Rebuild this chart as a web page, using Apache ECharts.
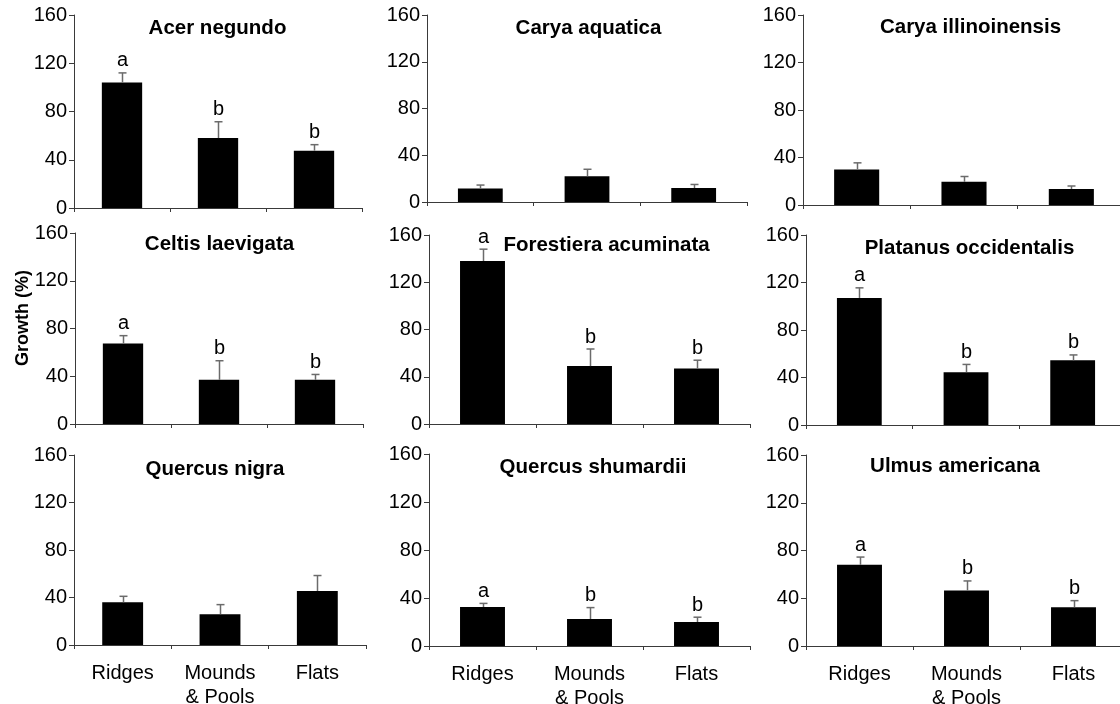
<!DOCTYPE html>
<html>
<head>
<meta charset="utf-8">
<script src="https://cdn.jsdelivr.net/npm/echarts@6/dist/echarts.min.js"></script>
<style>
  html, body { margin: 0; padding: 0; background: #fff; }
  #chart { width: 1120px; height: 704px; }
</style>
</head>
<body>
<div id="chart"></div>
<script>
// Microtopographic position classes
const categories = ['Ridges', 'Mounds\n& Pools', 'Flats'];

// One panel per species
const species = [
  'Acer negundo', 'Carya aquatica', 'Carya illinoinensis',
  'Celtis laevigata', 'Forestiera acuminata', 'Platanus occidentalis',
  'Quercus nigra', 'Quercus shumardii', 'Ulmus americana'
];

// Mean growth (%) per species, in category order
const growthMean = [
  [104, 58, 47.5],
  [11.5, 22, 12],
  [30, 19.5, 13.5],
  [67.5, 37, 37],
  [138, 49, 47],
  [107, 44.5, 54.5],
  [36, 26, 45.5],
  [32.5, 22.5, 20],
  [68, 46.5, 32.5]
];

// Standard error of growth (%)
const growthSE = [
  [8, 13.5, 5],
  [3, 6, 3],
  [5.5, 4.5, 2.5],
  [6.5, 16, 4.5],
  [10, 14.5, 7],
  [8.5, 6.5, 4.5],
  [5, 8, 13],
  [3, 9.5, 4],
  [6.5, 8, 5.5]
];

// Significance groupings (empty = not shown)
const groupLetters = [
  ['a', 'b', 'b'],
  ['', '', ''],
  ['', '', ''],
  ['a', 'b', 'b'],
  ['a', 'b', 'b'],
  ['a', 'b', 'b'],
  ['', '', ''],
  ['a', 'b', 'b'],
  ['a', 'b', 'b']
];

// Shared y scale
const yMin = 0, yMax = 160, yStep = 40;
const yAxisTitle = 'Growth (%)';

// Panel plotting boxes: [left, top, width, height] in px
const panelBoxes = [
  [74, 15, 288, 193],
  [427, 15, 320, 187],
  [803, 15, 322, 190],
  [75, 233, 288, 191],
  [429, 235, 321, 189],
  [806, 235, 320, 190],
  [74, 455, 292, 190],
  [429, 454, 321, 192],
  [806, 455, 321, 191]
];

// Panel heading anchors: [centre x, centre y] in px
const headingAnchors = [
  [217.5, 28], [588.5, 28], [970.5, 27.5],
  [219.5, 244], [606.5, 245], [969.5, 248],
  [215, 469], [593, 467], [955, 466]
];

const FONT = '"Liberation Sans", Arial, Helvetica, sans-serif';
const AXIS_COLOR = '#3a3a3a';
const ERR_COLOR = '#6b6b6b';

function errorRenderer(panel) {
  return function (params, api) {
    const i = api.value(0), m = api.value(1), e = api.value(2);
    const base = api.coord([i, m]);
    const top = api.coord([i, m + e]);
    const x = Math.round(base[0]) + 0.5;
    const children = [
      { type: 'line', shape: { x1: x, y1: base[1], x2: x, y2: top[1] },
        style: { stroke: ERR_COLOR, lineWidth: 1.5 } },
      { type: 'line', shape: { x1: x - 4, y1: top[1], x2: x + 4, y2: top[1] },
        style: { stroke: ERR_COLOR, lineWidth: 1.5 } }
    ];
    const letter = groupLetters[panel][params.dataIndex];
    if (letter) {
      children.push({
        type: 'text',
        style: {
          text: letter, x: x, y: top[1] - 2,
          align: 'center', verticalAlign: 'bottom',
          textAlign: 'center', textVerticalAlign: 'bottom',
          fontSize: 20, fontFamily: FONT, fill: '#000'
        }
      });
    }
    return { type: 'group', children: children };
  };
}

const grid = [], xAxis = [], yAxis = [], series = [], graphic = [];

species.forEach(function (name, k) {
  const b = panelBoxes[k];
  grid.push({
    left: b[0], top: b[1], width: b[2], height: b[3],
    containLabel: false, outerBoundsMode: 'none'
  });

  xAxis.push({
    type: 'category', gridIndex: k, data: categories,
    boundaryGap: true,
    axisLine: { show: true, lineStyle: { color: AXIS_COLOR, width: 1 } },
    axisTick: { show: true, length: 4, inside: false, lineStyle: { color: AXIS_COLOR } },
    axisLabel: {
      show: k >= 6, interval: 0, fontSize: 20, fontFamily: FONT,
      color: '#000', lineHeight: 24, margin: 16
    },
    splitLine: { show: false }
  });

  yAxis.push({
    type: 'value', gridIndex: k, min: yMin, max: yMax, interval: yStep,
    axisLine: { show: true, lineStyle: { color: AXIS_COLOR, width: 1 } },
    axisTick: { show: true, length: 5, inside: false, lineStyle: { color: AXIS_COLOR } },
    axisLabel: { fontSize: 20, fontFamily: FONT, color: '#000', margin: 7 },
    splitLine: { show: false }
  });

  series.push({
    type: 'bar', xAxisIndex: k, yAxisIndex: k,
    data: growthMean[k],
    barWidth: '42%',
    itemStyle: { color: '#000' },
    silent: true, animation: false, z: 2
  });

  series.push({
    type: 'custom', xAxisIndex: k, yAxisIndex: k,
    data: growthMean[k].map(function (m, i) { return [i, m, growthSE[k][i]]; }),
    encode: { x: 0, y: 1 },
    renderItem: errorRenderer(k),
    silent: true, animation: false, z: 3
  });

  const h = headingAnchors[k];
  graphic.push({
    type: 'text',
    x: h[0], y: h[1],
    style: {
      text: name, align: 'center', verticalAlign: 'middle',
      textAlign: 'center', textVerticalAlign: 'middle',
      fontSize: 20.5, fontWeight: 'bold', fontFamily: FONT, fill: '#000'
    }
  });
});

graphic.push({
  type: 'text',
  x: 23, y: 318, rotation: Math.PI / 2,
  style: {
    text: yAxisTitle, align: 'center', verticalAlign: 'middle',
    textAlign: 'center', textVerticalAlign: 'middle',
    fontSize: 18, fontWeight: 'bold', fontFamily: FONT, fill: '#000'
  }
});

const chart = echarts.init(document.getElementById('chart'), null, { renderer: 'canvas' });
chart.setOption({
  backgroundColor: '#fff',
  animation: false,
  grid: grid,
  xAxis: xAxis,
  yAxis: yAxis,
  series: series,
  graphic: graphic
});
</script>
</body>
</html>
